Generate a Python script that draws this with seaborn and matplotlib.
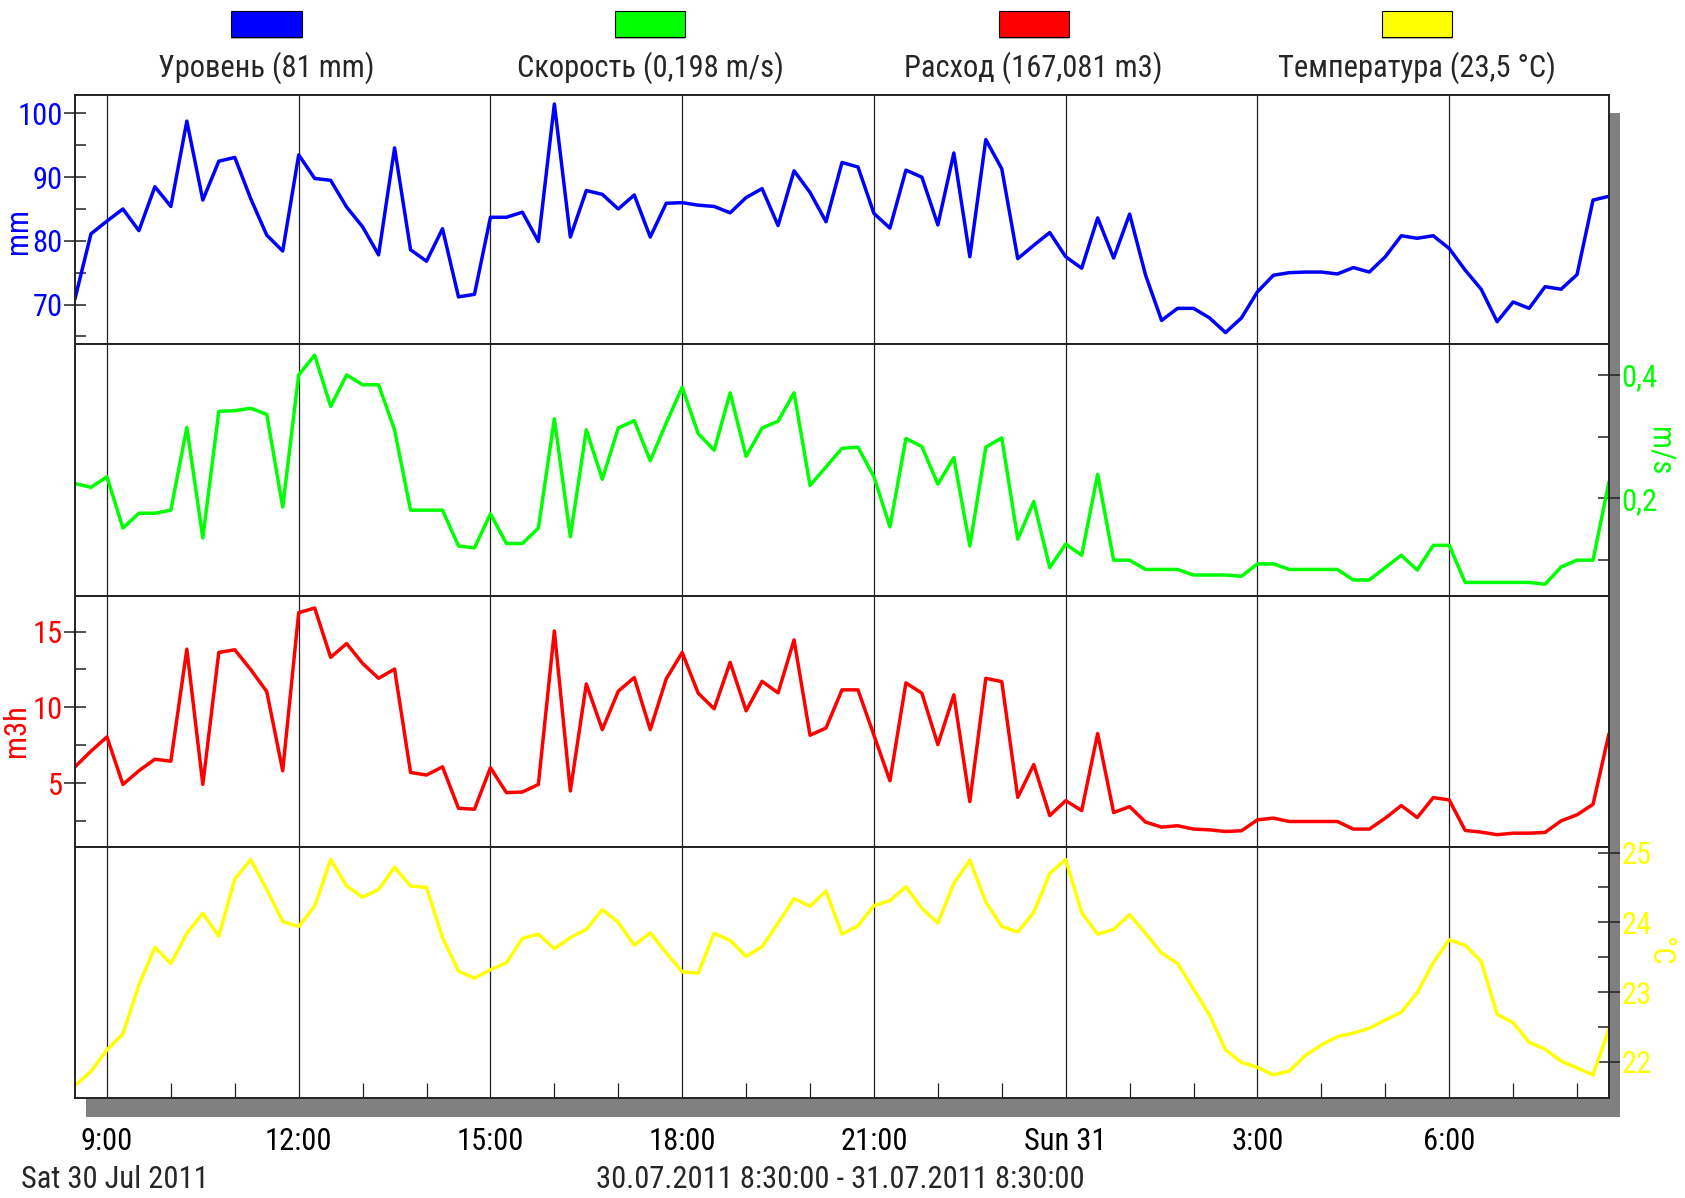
import matplotlib
matplotlib.use("Agg")
import matplotlib.pyplot as plt
import matplotlib.dates as mdates
from matplotlib.patches import Rectangle
from matplotlib import font_manager
import seaborn as sns
import pandas as pd

# ---- data (15 min samples, 30.07.2011 8:30 - 31.07.2011 8:30) ----
level_mm = [70.9, 81.1, 83.1, 85.0, 81.6, 88.5, 85.4, 98.8, 86.4, 92.5,
            93.1, 86.6, 80.9, 78.4, 93.5, 89.8, 89.5, 85.3, 82.2, 77.8,
            94.6, 78.6, 76.8, 81.9, 71.2, 71.6, 83.7, 83.7, 84.5, 79.9,
            101.5, 80.6, 87.9, 87.3, 85.0, 87.2, 80.6, 85.9, 86.0, 85.6,
            85.4, 84.4, 86.8, 88.2, 82.4, 91.0, 87.6, 83.0, 92.3, 91.6,
            84.3, 82.0, 91.1, 90.0, 82.5, 93.8, 77.5, 95.9, 91.3, 77.2,
            79.3, 81.3, 77.5, 75.7, 83.6, 77.3, 84.2, 74.6, 67.5, 69.4,
            69.4, 67.9, 65.6, 67.9, 72.0, 74.6, 75.0, 75.1, 75.1, 74.8,
            75.8, 75.1, 77.5, 80.8, 80.4, 80.8, 78.8, 75.4, 72.4, 67.3,
            70.4, 69.4, 72.8, 72.4, 74.7, 86.4, 87.0]

speed_ms = [0.224, 0.218, 0.235, 0.152, 0.176, 0.176, 0.181, 0.315, 0.136, 0.341,
            0.342, 0.346, 0.336, 0.186, 0.400, 0.432, 0.349, 0.400, 0.384, 0.384,
            0.311, 0.181, 0.181, 0.181, 0.123, 0.120, 0.175, 0.127, 0.127, 0.152,
            0.329, 0.138, 0.311, 0.231, 0.314, 0.326, 0.261, 0.322, 0.380, 0.305,
            0.278, 0.371, 0.268, 0.314, 0.325, 0.371, 0.221, 0.251, 0.281, 0.283,
            0.235, 0.154, 0.297, 0.284, 0.223, 0.266, 0.123, 0.283, 0.298, 0.134,
            0.195, 0.088, 0.126, 0.108, 0.239, 0.100, 0.100, 0.085, 0.085, 0.085,
            0.076, 0.076, 0.076, 0.074, 0.094, 0.094, 0.085, 0.085, 0.085, 0.085,
            0.068, 0.068, 0.088, 0.108, 0.084, 0.124, 0.124, 0.064, 0.064, 0.064,
            0.064, 0.064, 0.061, 0.089, 0.100, 0.100, 0.227]

flow_m3h = [6.09, 7.12, 8.06, 4.93, 5.83, 6.59, 6.46, 13.84, 4.93, 13.62,
            13.80, 12.49, 11.05, 5.83, 16.24, 16.55, 13.30, 14.21, 12.90, 11.92,
            12.53, 5.72, 5.55, 6.09, 3.36, 3.30, 6.03, 4.39, 4.43, 4.93,
            15.04, 4.50, 11.55, 8.54, 11.07, 11.97, 8.54, 11.88, 13.62, 10.94,
            9.91, 12.97, 9.78, 11.72, 10.96, 14.45, 8.17, 8.65, 11.16, 11.16,
            8.17, 5.17, 11.62, 10.94, 7.55, 10.83, 3.80, 11.92, 11.70, 4.08,
            6.24, 2.88, 3.86, 3.21, 8.28, 3.08, 3.47, 2.45, 2.12, 2.21,
            1.99, 1.94, 1.83, 1.88, 2.60, 2.71, 2.49, 2.49, 2.49, 2.49,
            1.99, 1.99, 2.71, 3.54, 2.75, 4.06, 3.91, 1.90, 1.79, 1.62,
            1.72, 1.72, 1.77, 2.53, 2.93, 3.62, 8.28]

temp_c = [21.66, 21.86, 22.17, 22.40, 23.10, 23.64, 23.41, 23.84, 24.13, 23.80,
          24.62, 24.90, 24.47, 24.01, 23.94, 24.23, 24.90, 24.52, 24.36, 24.47,
          24.79, 24.52, 24.50, 23.78, 23.30, 23.20, 23.32, 23.42, 23.77, 23.83,
          23.62, 23.78, 23.90, 24.18, 24.00, 23.67, 23.85, 23.56, 23.29, 23.27,
          23.84, 23.74, 23.51, 23.65, 23.99, 24.34, 24.23, 24.45, 23.83, 23.95,
          24.24, 24.31, 24.51, 24.20, 23.99, 24.56, 24.89, 24.29, 23.94, 23.86,
          24.14, 24.70, 24.90, 24.14, 23.83, 23.90, 24.11, 23.84, 23.56, 23.41,
          23.04, 22.67, 22.17, 21.99, 21.92, 21.81, 21.87, 22.09, 22.24, 22.36,
          22.41, 22.48, 22.60, 22.71, 22.99, 23.42, 23.75, 23.67, 23.44, 22.68,
          22.56, 22.28, 22.18, 22.01, 21.91, 21.81, 22.47]

times = pd.date_range("2011-07-30 08:30", periods=len(level_mm), freq="15min")

legend_labels = ["Уровень (81 mm)", "Скорость (0,198 m/s)",
                 "Расход (167,081 m3)", "Температура (23,5 °C)"]
colors = ["#0000ff", "#00ff00", "#ff0000", "#ffff00"]
units = ["mm", "m/s", "m3h", "°C"]

hour_ticks = pd.date_range("2011-07-30 09:00", periods=8, freq="3h")
hour_labels = ["9:00", "12:00", "15:00", "18:00", "21:00", "Sun 31", "3:00", "6:00"]

level_ticks = [70, 80, 90, 100]
speed_ticks = [0.2, 0.4]
speed_tick_labels = ["0,2", "0,4"]
flow_ticks = [5, 10, 15]
temp_ticks = [22, 23, 24, 25]

df = pd.DataFrame({"time": times, "level": level_mm, "speed": speed_ms,
                   "flow": flow_m3h, "temp": temp_c})

# ---- style ----
sns.set_theme(style="white")


def pick_narrow():
    fonts = font_manager.fontManager.ttflist
    names = {f.name for f in fonts}
    for p in ["Liberation Sans Narrow", "Roboto Condensed", "DejaVu Sans Condensed",
              "Open Sans Condensed", "Noto Sans Condensed", "Arial Narrow"]:
        if p in names:
            return p
    cond = ("condensed", "extra-condensed", "ultra-condensed", "semi-condensed")
    for pref in ["DejaVu Sans", "Roboto", "Noto Sans", "Open Sans", "Liberation Sans"]:
        for f in fonts:
            if f.name == pref and f.stretch in cond and f.style == "normal":
                return pref
    return "DejaVu Sans"


narrow = pick_narrow()
plt.rcParams["font.family"] = [narrow, "DejaVu Sans"]
plt.rcParams["font.stretch"] = "condensed"
FS = 22

fig = plt.figure(figsize=(16.85, 11.98), dpi=100)
fig.patch.set_facecolor("white")

# shadow behind the plot block
fig.add_artist(Rectangle((0.051, 0.0676), 0.9104, 0.838, transform=fig.transFigure,
                         facecolor="#808080", edgecolor="none", zorder=-5))

left, width = 0.0445, 0.9104
bounds = [0.92070, 0.71285, 0.50250, 0.29299, 0.08347]
axes = []
for i in range(4):
    ax = fig.add_axes([left, bounds[i + 1], width, bounds[i] - bounds[i + 1]],
                      sharex=axes[0] if axes else None)
    ax.set_facecolor("white")
    axes.append(ax)
ax1, ax2, ax3, ax4 = axes

cols = ["level", "speed", "flow", "temp"]
for ax, col, c in zip(axes, cols, colors):
    sns.lineplot(data=df, x="time", y=col, ax=ax, color=c, linewidth=2.5)
    ax.set_xlabel("")
    ax.set_ylabel("")
    for s in ax.spines.values():
        s.set_color("#222222")
        s.set_linewidth(1.4)
    ax.set_xticks(hour_ticks)
    ax.grid(axis="x", which="major", color="#222222", linewidth=0.9)
    ax.grid(axis="y", visible=False)

ax1.set_xlim(times[0], times[-1])

# y scales
ax1.set_ylim(63.8, 102.9)
ax1.set_yticks(level_ticks)
ax1.set_yticks([65, 75, 85, 95], minor=True)

ax2.set_ylim(0.042, 0.45)
ax2.set_yticks(speed_ticks)
ax2.set_yticklabels(speed_tick_labels)
ax2.set_yticks([0.1, 0.3], minor=True)

ax3.set_ylim(0.81, 17.34)
ax3.set_yticks(flow_ticks)
ax3.set_yticks([2.5, 7.5, 12.5], minor=True)

ax4.set_ylim(21.48, 25.08)
ax4.set_yticks(temp_ticks)
ax4.set_yticks([22.5, 23.5, 24.5], minor=True)

for ax, c, side in zip(axes, colors, ["left", "right", "left", "right"]):
    if side == "right":
        ax.yaxis.tick_right()
    ax.tick_params(axis="y", which="major", direction="inout", length=16, width=1.1,
                   color="#222222", labelcolor=c, labelsize=FS, pad=1,
                   left=(side == "left"), right=(side == "right"))
    ax.tick_params(axis="y", which="minor", direction="in", length=8, width=1.1,
                   color="#222222", left=(side == "left"), right=(side == "right"))

for ax in (ax1, ax2, ax3):
    ax.tick_params(axis="x", which="both", length=0, labelbottom=False)

ax4.set_xticklabels(hour_labels)
ax4.xaxis.set_minor_locator(mdates.HourLocator())
ax4.tick_params(axis="x", which="major", direction="out", length=13, width=0.9,
                color="#222222", labelsize=FS, pad=8, labelcolor="black")
ax4.tick_params(axis="x", which="minor", direction="in", length=11, width=0.9,
                color="#222222", bottom=True)

# axis unit labels
ax1.text(-0.037, 0.454, units[0], transform=ax1.transAxes, rotation=90,
         ha="center", va="center", color=colors[0], fontsize=FS)
ax2.text(1.033, 0.575, units[1], transform=ax2.transAxes, rotation=270,
         ha="center", va="center", color=colors[1], fontsize=FS)
ax3.text(-0.038, 0.462, units[2], transform=ax3.transAxes, rotation=90,
         ha="center", va="center", color=colors[2], fontsize=FS)
ax4.text(1.033, 0.586, units[3], transform=ax4.transAxes, rotation=270,
         ha="center", va="center", color=colors[3], fontsize=FS)

# legend on top: colour box with label underneath
centers = [266.5 / 1685, 650 / 1685, 1033.6 / 1685, 1417 / 1685]
for xc, c, lab in zip(centers, colors, legend_labels):
    fig.add_artist(Rectangle((xc - 0.0208, 1 - 39 / 1198), 0.0416, 26 / 1198,
                             transform=fig.transFigure, facecolor="#b0b0b0",
                             edgecolor="none"))
    fig.add_artist(Rectangle((xc - 0.0208, 1 - 37 / 1198), 0.0416, 26 / 1198,
                             transform=fig.transFigure, facecolor=c,
                             edgecolor="black", linewidth=0.8))
    fig.text(xc, 1 - 68 / 1198, lab, ha="center", va="center", fontsize=FS)

fig.text(21 / 1685, 1 - 1180 / 1198, "Sat 30 Jul 2011", ha="left", va="center", fontsize=FS)
fig.text(840 / 1685, 1 - 1180 / 1198, "30.07.2011 8:30:00 - 31.07.2011 8:30:00",
         ha="center", va="center", fontsize=FS)

fig.savefig("out.png", dpi=100, facecolor="white")
